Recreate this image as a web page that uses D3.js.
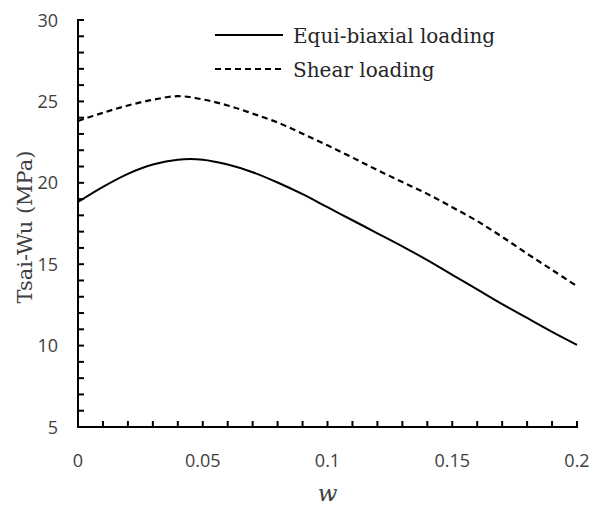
<!DOCTYPE html>
<html><head><meta charset="utf-8">
<script src="https://cdn.jsdelivr.net/npm/d3@7"></script>
<style>body{margin:0;background:#fff}svg{display:block}</style>
</head><body>
<svg id="c" width="595" height="506"></svg>
<script>
const wValues = [0,0.01,0.02,0.03,0.04,0.05,0.06,0.07,0.08,0.09,0.1,0.11,0.12,0.13,0.14,0.15,0.16,0.17,0.18,0.19,0.2];
const equiBiaxial = [18.82,19.75,20.55,21.12,21.42,21.42,21.12,20.65,20.02,19.3,18.5,17.7,16.9,16.1,15.25,14.35,13.45,12.55,11.7,10.85,10.05];
const shear = [23.8,24.3,24.75,25.1,25.32,25.12,24.75,24.25,23.7,23.02,22.3,21.55,20.78,20.05,19.32,18.5,17.65,16.68,15.65,14.65,13.65];
const xTicks = [0,0.05,0.1,0.15,0.2];
const xTickLabels = ["0","0.05","0.1","0.15","0.2"];
const yTicks = [5,10,15,20,25,30];
const seriesNames = ["Equi-biaxial loading","Shear loading"];

const svg = d3.select("#c");
const x = d3.scaleLinear().domain([0,0.2]).range([78,577]);
const y = d3.scaleLinear().domain([5,30]).range([427,20]);

// minor ticks
const xMinor = d3.range(0,0.2001,0.01);
const yMinor = d3.range(5,30.001,1);
svg.append("g").selectAll("line").data(xMinor).join("line")
  .attr("x1",d=>x(d)).attr("x2",d=>x(d)).attr("y1",427).attr("y2",421)
  .attr("stroke","#000").attr("stroke-width",2);
svg.append("g").selectAll("line").data(yMinor).join("line")
  .attr("x1",78).attr("x2",84).attr("y1",d=>y(d)).attr("y2",d=>y(d))
  .attr("stroke","#000").attr("stroke-width",2);

// axes lines
svg.append("line").attr("x1",78).attr("x2",578).attr("y1",427).attr("y2",427).attr("stroke","#000").attr("stroke-width",2);
svg.append("line").attr("x1",78).attr("x2",78).attr("y1",19).attr("y2",428).attr("stroke","#000").attr("stroke-width",2);

// tick labels
svg.append("g").selectAll("text").data(xTicks).join("text")
  .attr("x",d=>x(d)).attr("y",467).attr("text-anchor","middle")
  .attr("font-family","Open Sans").attr("font-size",18).attr("fill","#404040")
  .text((d,i)=>xTickLabels[i]);
svg.append("g").selectAll("text").data(yTicks).join("text")
  .attr("x",58).attr("y",d=>y(d)+6.5).attr("text-anchor","end")
  .attr("font-family","Open Sans").attr("font-size",18).attr("fill","#404040")
  .text(d=>d);

// axis titles
svg.append("text").attr("x",x(0.1)).attr("y",501).attr("text-anchor","middle")
  .attr("font-family","DejaVu Serif").attr("font-style","italic").attr("font-size",23).attr("fill","#404040").text("w");
svg.append("text").attr("transform","translate(32,227) rotate(-90)").attr("text-anchor","middle")
  .attr("font-family","DejaVu Serif").attr("font-size",21).attr("fill","#404040").text("Tsai-Wu (MPa)");

// lines
const line = d3.line().x((d,i)=>x(wValues[i])).y(d=>y(d)).curve(d3.curveCatmullRom);
svg.append("path").attr("d",line(equiBiaxial)).attr("fill","none").attr("stroke","#000").attr("stroke-width",2);
svg.append("path").attr("d",line(shear)).attr("fill","none").attr("stroke","#000").attr("stroke-width",2.2).attr("stroke-dasharray","6,4");

// legend
const leg = [{y:35,dash:null},{y:69,dash:"6,4"}];
leg.forEach((l,i)=>{
  svg.append("line").attr("x1",215).attr("x2",283).attr("y1",l.y).attr("y2",l.y)
    .attr("stroke","#000").attr("stroke-width",2).attr("stroke-dasharray",l.dash);
  svg.append("text").attr("x",293).attr("y",l.y+7.5).attr("font-family","DejaVu Serif").attr("font-size",20)
    .attr("fill","#262626").text(seriesNames[i]);
});
</script>
</body></html>
